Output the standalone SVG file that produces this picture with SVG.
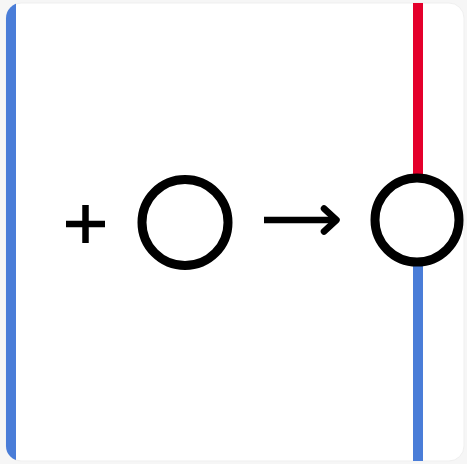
<svg xmlns="http://www.w3.org/2000/svg" width="467" height="464" viewBox="0 0 467 464">
  <defs>
    <clipPath id="frame">
      <rect x="6" y="3" width="458" height="458" rx="15" ry="15"/>
    </clipPath>
    <style>
      .ring { fill: #ffffff; stroke: #000000; stroke-width: 9; }
      .sym { fill: none; stroke: #000000; stroke-width: 6.5; }
    </style>
  </defs>
  <rect x="0" y="0" width="467" height="464" fill="#f6f6f6"/>
  <rect x="6" y="3" width="458" height="458" rx="15" ry="15" fill="#ffffff" stroke="#efefef" stroke-width="1"/>
  <g id="connectors" clip-path="url(#frame)">
    <rect x="6" y="3" width="10" height="458" fill="#4a7dd8"/>
    <rect x="413" y="3" width="10" height="217" fill="#e4002b"/>
    <rect x="413" y="220" width="10" height="241" fill="#4a7dd8"/>
  </g>
  <g id="plus">
    <line class="sym" x1="66" y1="224" x2="105" y2="224"/>
    <line class="sym" x1="85.5" y1="205" x2="85.5" y2="243"/>
  </g>
  <g id="circle-left">
    <circle class="ring" cx="185" cy="222.5" r="43"/>
  </g>
  <g id="arrow">
    <line class="sym" x1="264" y1="220" x2="336" y2="220"/>
    <polyline class="sym" points="324,208.5 336.5,220 324,231.5" stroke-linecap="round" stroke-linejoin="round"/>
  </g>
  <g id="circle-right">
    <circle class="ring" cx="417" cy="220" r="42"/>
  </g>
</svg>
